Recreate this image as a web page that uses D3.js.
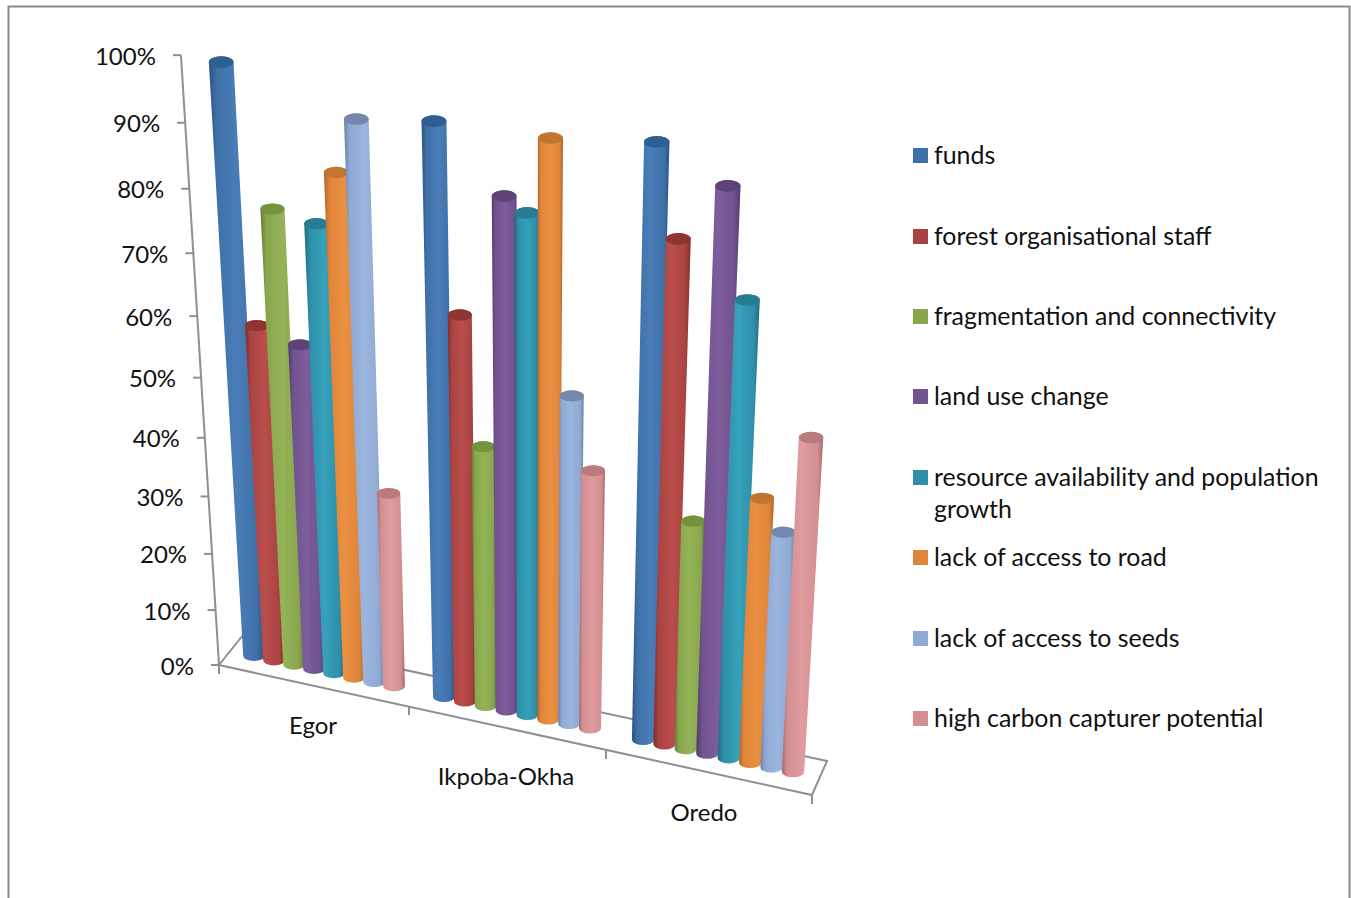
<!DOCTYPE html>
<html><head><meta charset="utf-8">
<script src="https://cdn.jsdelivr.net/npm/d3@7/dist/d3.min.js"></script>
<style>html,body{margin:0;padding:0;background:#fff;overflow:hidden}svg{display:block}text{font-family:Lato,"Open Sans",sans-serif;fill:#111}</style>
</head><body><svg id="c" width="1351" height="898"></svg>
<script>
const categories = ["Egor","Ikpoba-Okha","Oredo"];
const seriesNames = ["funds","forest organisational staff","fragmentation and connectivity","land use change","resource availability and population growth","lack of access to road","lack of access to seeds","high carbon capturer potential"];
const funds = [97.5,92.6,93.5];
const forestStaff = [57.5,64.2,80.2];
const fragmentation = [76.3,44,38];
const landUse = [55.5,83,88.6];
const resource = [75,81,72.8];
const road = [83.2,92.2,43.5];
const seeds = [91.5,54.4,38.8];
const carbon = [33.5,43.2,54];
const seriesValues = [funds,forestStaff,fragmentation,landUse,resource,road,seeds,carbon];
const tickLabels = [0,10,20,30,40,50,60,70,80,90,100];

const bodyColors = ["#3f70a8","#a94341","#88a64c","#71538e","#2f8fa9","#e0853a","#8fa9d3","#d48f92"];
const edgeColors = ["#2b5280","#7c2e2d","#637d38","#503a6b","#1f6a7f","#ae652a","#6a81a8","#a46b6e"];
const lightColors = ["#4a7db7","#b94e4c","#95b458","#7d5d9c","#36a1bb","#ea9042","#9cb5df","#df9b9f"];
const capColors = ["#2f5f92","#8e3432","#75923c","#5d4377","#277c93","#c27530","#7488ae","#bb7a7e"];

const VP = [530,5650];
const depth = d3.scaleLinear().domain([0,100]).range([1,0.891]);
const slotDomain = [0,7,9.5,16.5,19,26];
const slotRange = [254,394,444,590,643,793];
const slotX = d3.scaleLinear().domain(slotDomain).range(slotRange);
const baseY = d3.scaleLinear().domain([254,793]).range([656,772]);
const gain = d3.scaleLinear().domain([254,793]).range([1,1.09]);
const radius = d3.scaleLinear().domain([254,793]).range([10.8,11.2]);
const catGap = 9.5;

function project(bx,by,h){const w=1/depth(h);return {x:VP[0]+(bx-VP[0])*w,y:VP[1]+(by-VP[1])*w,w};}

const svg = d3.select("#c");
const defs = svg.append("defs");
bodyColors.forEach((c,i)=>{
  const g=defs.append("linearGradient").attr("id","g"+i);
  [[0,edgeColors[i]],[0.14,c],[0.5,lightColors[i]],[0.86,c],[1,edgeColors[i]]].forEach(([o,col])=>g.append("stop").attr("offset",o).attr("stop-color",col));
});

// frame
const frameColor="#8a8a8a";
svg.append("path").attr("d",d3.line()([[8.5,898],[8.5,6.5],[1349.5,6.5],[1349.5,898]])).attr("fill","none").attr("stroke",frameColor).attr("stroke-width",2);

// wall and floor
const axisColor="#8f8f8f";
const P0=[219,665], wallX=d=>VP[0]+(P0[0]-VP[0])/depth(d), wallY=d=>VP[1]+(P0[1]-VP[1])/depth(d);
const axes=svg.append("g").attr("fill","none").attr("stroke",axisColor).attr("stroke-width",2);
axes.append("path").attr("d",d3.line()([[wallX(100),wallY(100)],[wallX(0),wallY(0)]]));
const floorPts=[[219,665],[243,635],[827,761],[812,795],[219,665]];
axes.append("path").attr("d",d3.line()(floorPts));
tickLabels.forEach(t=>{axes.append("path").attr("d",d3.line()([[wallX(t)-8,wallY(t)],[wallX(t),wallY(t)]]));});
const catTicks=[[219,665],[409,706],[606,750],[812,795]];
catTicks.forEach(p=>axes.append("path").attr("d",d3.line()([p,[p[0],p[1]+9]])));

svg.append("g").selectAll("text").data(tickLabels).join("text")
 .attr("x",d=>wallX(d)-25).attr("y",d=>wallY(d)+9.5).attr("text-anchor","end").attr("font-size",24).text(d=>d+"%");

const catLabelPos=[[313,734],[506,785],[704,821]];
svg.append("g").selectAll("text").data(categories).join("text")
 .attr("x",(d,i)=>catLabelPos[i][0]).attr("y",(d,i)=>catLabelPos[i][1]).attr("text-anchor","middle").attr("font-size",24).text(d=>d);

// bars
const bars=svg.append("g");
categories.forEach((cat,i)=>{
  seriesValues.forEach((vals,j)=>{
    const bx=slotX(i*catGap+j), by=baseY(bx), v=vals[i]*gain(bx);
    const top=project(bx,by,v), rb=radius(bx), rt=rb*top.w*1.02, ryb=rb*0.47, ryt=rt*0.47;
    const d=`M${bx-rb},${by}L${top.x-rt},${top.y}A${rt},${ryt} 0 0 1 ${top.x+rt},${top.y}L${bx+rb},${by}A${rb},${ryb} 0 0 1 ${bx-rb},${by}Z`;
    bars.append("path").attr("d",d).attr("fill",`url(#g${j})`);
    bars.append("ellipse").attr("cx",top.x).attr("cy",top.y).attr("rx",rt).attr("ry",ryt).attr("fill",capColors[j]);
  });
});

// legend
const legendY=[155,236,316,396,477,557,638,718];
const lg=svg.append("g");
seriesNames.forEach((n,j)=>{
  lg.append("rect").attr("x",913).attr("y",legendY[j]-7).attr("width",15).attr("height",15).attr("fill",bodyColors[j]);
  const t=lg.append("text").attr("x",934).attr("y",legendY[j]+9).attr("font-size",24.9);
  if(j===4){
    t.append("tspan").attr("x",934).text("resource availability and population");
    t.append("tspan").attr("x",934).attr("dy",32).text("growth");
  } else t.text(n);
});
</script></body></html>
